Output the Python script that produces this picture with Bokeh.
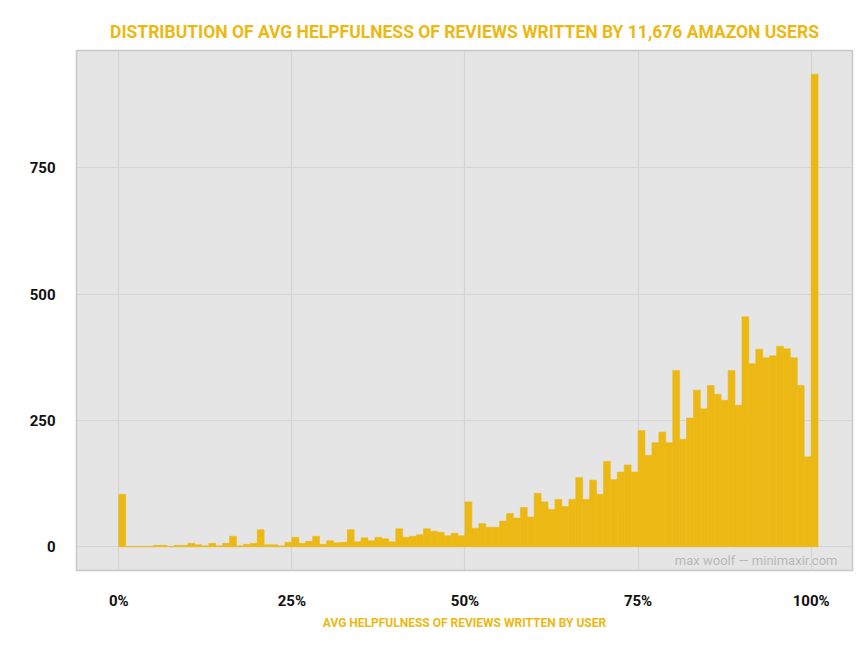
from bokeh.plotting import figure
from bokeh.models import Range1d, FixedTicker, PrintfTickFormatter, Label
from bokeh.embed import file_html
from bokeh.resources import INLINE

# histogram: 1%-wide bins, bin i covers [i%, i+1%)
bin_starts = list(range(101))
counts = [
    104, 1, 1, 1, 1, 3, 3, 1, 3, 3,
    7, 4, 2, 7, 2, 7, 21, 2, 5, 7,
    34, 4, 4, 2, 9, 19, 7, 11, 21, 5,
    12, 8, 9, 34, 10, 18, 12, 19, 16, 10,
    36, 19, 21, 24, 36, 31, 29, 22, 27, 22,
    89, 37, 46, 39, 39, 51, 66, 57, 78, 59,
    106, 89, 74, 94, 80, 94, 137, 94, 132, 104,
    169, 133, 148, 162, 148, 230, 181, 206, 227, 206,
    349, 213, 255, 310, 273, 319, 302, 290, 349, 280,
    455, 362, 391, 374, 378, 397, 392, 374, 319, 178,
    935,
]
bin_width = 1
x_ticks = [0, 25, 50, 75, 100]
y_ticks = [0, 250, 500, 750]

title_text = "DISTRIBUTION OF AVG HELPFULNESS OF REVIEWS WRITTEN BY 11,676 AMAZON USERS"
x_label = "AVG HELPFULNESS OF REVIEWS WRITTEN BY USER"
credit = "max woolf \u2014 minimaxir.com"

GOLD = "#ECB813"
FONT = "Roboto"

p = figure(
    frame_width=776, frame_height=520,
    min_border_left=76, min_border_right=3, min_border_top=50, min_border_bottom=69,
    x_range=Range1d(-6.1, 105.97), y_range=Range1d(-46.75, 981.75),
    output_backend="svg", toolbar_location=None,
    background_fill_color="#E5E5E5", border_fill_color="white",
)

lefts = [b for b in bin_starts]
rights = [b + bin_width for b in bin_starts]
p.quad(left=lefts, right=rights, bottom=0, top=counts,
       fill_color=GOLD, line_color=GOLD, line_width=0.5)

p.title.text = title_text
p.title.align = "center"
p.title.text_font = FONT
p.title.text_font_style = "bold"
p.title.text_font_size = "17.5px"
p.title.text_color = GOLD
p.title.standoff = 18

p.outline_line_color = "#C8C8C8"
p.outline_line_width = 1.5

for ax in (p.xaxis[0], p.yaxis[0]):
    ax.axis_line_color = None
    ax.major_tick_line_color = None
    ax.minor_tick_line_color = None
    ax.major_tick_out = 0
    ax.major_tick_in = 0
    ax.minor_tick_out = 0
    ax.major_label_text_font = FONT
    ax.major_label_text_font_style = "bold"
    ax.major_label_text_font_size = "15px"
    ax.major_label_text_color = "#111111"
    ax.major_label_standoff = 21

p.xaxis.ticker = FixedTicker(ticks=x_ticks)
p.xaxis.formatter = PrintfTickFormatter(format="%d%%")
p.yaxis.ticker = FixedTicker(ticks=y_ticks)

p.xaxis.axis_label = x_label
p.xaxis.axis_label_text_font = FONT
p.xaxis.axis_label_text_font_style = "bold"
p.xaxis.axis_label_text_font_size = "12px"
p.xaxis.axis_label_text_color = GOLD
p.xaxis.axis_label_standoff = 3

p.xgrid.ticker = FixedTicker(ticks=x_ticks)
p.ygrid.ticker = FixedTicker(ticks=y_ticks)
for g in (p.xgrid[0], p.ygrid[0]):
    g.grid_line_color = "#D4D4D4"
    g.grid_line_width = 1.2

p.add_layout(Label(x=103.8, y=-26, text=credit, text_align="right",
                   text_baseline="middle", text_font=FONT,
                   text_font_size="13px", text_color="#B8B8B8"))

open("out.html", "w").write(file_html(p, INLINE))
